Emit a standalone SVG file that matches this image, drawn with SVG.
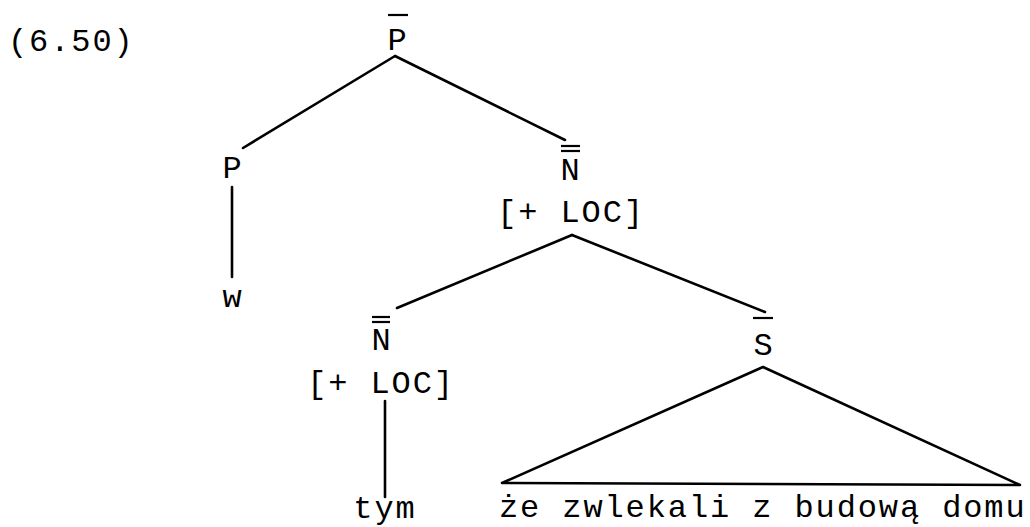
<svg xmlns="http://www.w3.org/2000/svg" width="1030" height="527" viewBox="0 0 1030 527">
<style>
text{font-family:"Liberation Mono","DejaVu Sans Mono",monospace;font-size:32px;letter-spacing:1.9px;fill:#000}
.c{text-anchor:middle}
.e{stroke:#000;stroke-width:2.6;fill:none;stroke-linecap:round;stroke-linejoin:round}
.b{stroke:#000;stroke-width:2.2;fill:none}
</style>
<rect width="1030" height="527" fill="#fff"/>
<text id="label" x="8" y="51">(6.50)</text>
<g id="connectors">
<line class="e" x1="395" y1="56" x2="243" y2="148"/>
<line class="e" x1="395" y1="56" x2="565" y2="140"/>
<line class="e" x1="232" y1="187" x2="232" y2="277"/>
<line class="e" x1="572" y1="235" x2="397" y2="308"/>
<line class="e" x1="572" y1="235" x2="765" y2="312"/>
<line class="e" x1="385" y1="401" x2="385" y2="497"/>
<polygon class="e" points="763,367 502,483 1020,485"/>
</g>
<g id="node-Pbar">
<line class="b" x1="388" y1="15" x2="408" y2="15"/>
<text class="c" x="398" y="50">P</text>
</g>
<g id="node-P">
<text class="c" x="233" y="178">P</text>
</g>
<g id="node-w">
<text class="c" x="233" y="307">w</text>
</g>
<g id="node-N2-upper">
<line class="b" x1="561" y1="146" x2="580" y2="146"/>
<line class="b" x1="561" y1="151" x2="580" y2="151"/>
<text class="c" x="571" y="180">N</text>
<text class="c" x="571" y="222">[+ LOC]</text>
</g>
<g id="node-N2-lower">
<line class="b" x1="372" y1="317" x2="390" y2="317"/>
<line class="b" x1="372" y1="322" x2="390" y2="322"/>
<text class="c" x="382" y="350">N</text>
<text class="c" x="381" y="393">[+ LOC]</text>
</g>
<g id="node-Sbar">
<line class="b" x1="753" y1="318" x2="773" y2="318"/>
<text class="c" x="764" y="355">S</text>
</g>
<g id="node-tym">
<text class="c" x="385" y="518">tym</text>
</g>
<g id="node-clause">
<text x="499" y="517">że zwlekali z budową domu</text>
</g>
</svg>
